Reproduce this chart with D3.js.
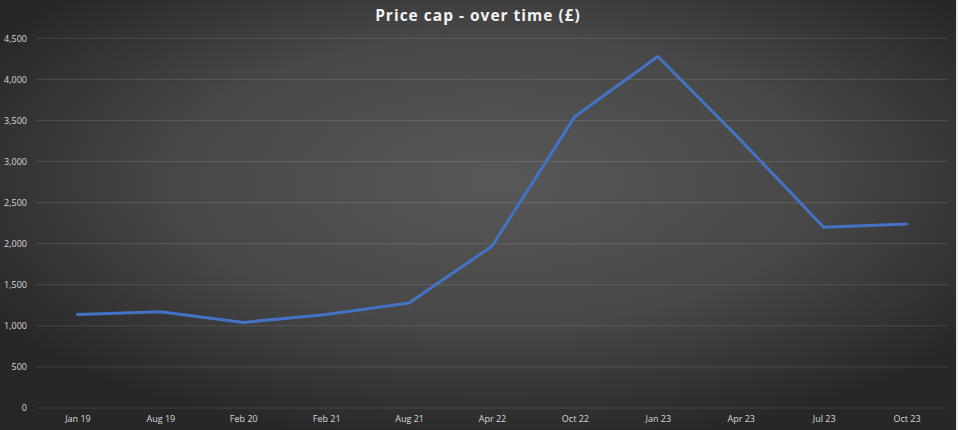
<!DOCTYPE html>
<html>
<head>
<meta charset="utf-8">
<script src="https://cdn.jsdelivr.net/npm/d3@7"></script>
<style>
html,body{margin:0;padding:0;background:#2b2b2b;}
svg{display:block;}
</style>
</head>
<body>
<script>
const categories = ["Jan 19","Aug 19","Feb 20","Feb 21","Aug 21","Apr 22","Oct 22","Jan 23","Apr 23","Jul 23","Oct 23"];
const priceCap = [1137, 1172, 1042, 1138, 1277, 1971, 3549, 4279, 3260, 2200, 2240];
const yTicks = [0,500,1000,1500,2000,2500,3000,3500,4000,4500];
const title = "Price cap - over time (£)";

(function(){
const W = 958, H = 430;
const svg = d3.select("body").append("svg").attr("width", W).attr("height", H);

const defs = svg.append("defs");
const grad = defs.append("radialGradient").attr("id","bg")
  .attr("cx","52%").attr("cy","42%").attr("r","62%")
  .attr("gradientUnits","objectBoundingBox");
grad.append("stop").attr("offset","0%").attr("stop-color","#585858");
grad.append("stop").attr("offset","55%").attr("stop-color","#474747");
grad.append("stop").attr("offset","100%").attr("stop-color","#272727");
svg.append("rect").attr("width",W-2).attr("height",H).attr("fill","url(#bg)");
svg.append("rect").attr("x",W-2).attr("width",2).attr("height",H).attr("fill","#e8e8e8");

const mL = 36, mR = 948, mT = 38.3, mB = 408;
const x = d3.scalePoint().domain(categories).range([mL, mR]).padding(0.5);
const y = d3.scaleLinear().domain([0,4500]).range([mB, mT]);

// gridlines
svg.append("g").selectAll("line").data(yTicks).join("line")
  .attr("x1", mL).attr("x2", mR)
  .attr("y1", d => y(d)).attr("y2", d => y(d))
  .attr("stroke", "#ffffff").attr("stroke-opacity", 0.12).attr("stroke-width", 1);

// y axis labels
const yAxis = d3.axisLeft(y).tickValues(yTicks).tickFormat(d3.format(",")).tickSize(0).tickPadding(0);
const gy = svg.append("g").attr("transform", `translate(${mL-9},0)`).call(yAxis);
gy.select(".domain").remove();
gy.selectAll("text").attr("fill","#d9d9d9").attr("font-family","'Open Sans', sans-serif").attr("font-size","9px");

// x axis labels
const xAxis = d3.axisBottom(x).tickSize(0).tickPadding(0);
const gx = svg.append("g").attr("transform", `translate(0,${mB+8})`).call(xAxis);
gx.select(".domain").remove();
gx.selectAll("text").attr("fill","#d9d9d9").attr("font-family","'Open Sans', sans-serif").attr("font-size","9px");

// line
const line = d3.line().x((d,i) => x(categories[i])).y(d => y(d));
svg.append("path").datum(priceCap).attr("d", line)
  .attr("fill","none").attr("stroke","#4472C4").attr("stroke-width",3)
  .attr("stroke-linejoin","round").attr("stroke-linecap","round");

// title
svg.append("text").attr("x", 478).attr("y", 20.5).attr("text-anchor","middle")
  .attr("fill","#f2f2f2").attr("font-family","'Open Sans', sans-serif")
  .attr("font-weight","bold").attr("font-size","15.5px").attr("letter-spacing","1px")
  .text(title);
})();
</script>
</body>
</html>
